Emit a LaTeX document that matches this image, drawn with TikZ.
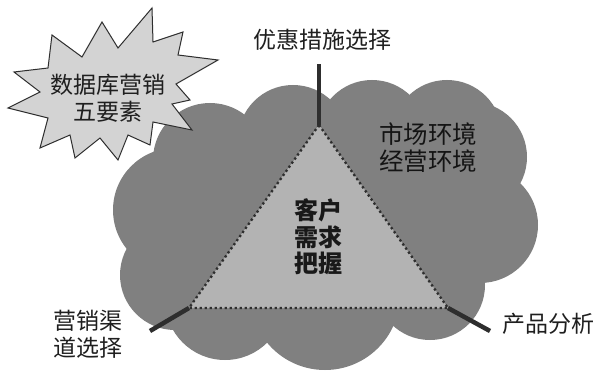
\documentclass[tikz,border=0pt]{standalone}
\usepackage{fontspec}
\newfontfamily\cjk{Noto Sans CJK SC}
\definecolor{cloudgray}{HTML}{808080}
\definecolor{trigray}{HTML}{B3B3B3}
\definecolor{stargray}{HTML}{D3D3D3}
\definecolor{darkline}{HTML}{2E2E2E}
\begin{document}
\begin{tikzpicture}[x=1pt,y=-1pt,
  cloudpart/.style={fill=cloudgray, draw=none},
  starsty/.style={fill=stargray, draw=darkline, line width=1pt, line join=miter},
  tristy/.style={fill=trigray, draw=none},
  dotsty/.style={draw=darkline, line width=2.3pt, dash pattern=on 2.3pt off 2.7pt},
  spoke/.style={draw=darkline, line width=4.5pt},
  lbl/.style={font=\cjk\fontsize{23}{27}\selectfont, align=center, inner sep=0pt, text=black!88},
  envlbl/.style={font=\cjk\fontsize{24.5}{27}\selectfont, align=center, inner sep=0pt, text=black!92},
  blbl/.style={font=\cjk\bfseries\fontsize{24}{26.5}\selectfont, align=center, inner sep=0pt, text=black!90}]
\useasboundingbox (0,0) rectangle (600,374);
\fill[white] (0,0) rectangle (600,374);
% cloud
\fill[cloudpart] (210,160) circle[radius=57];
\fill[cloudpart] (293,140) circle[radius=55];
\fill[cloudpart] (372,135) circle[radius=55];
\fill[cloudpart] (447,135) circle[radius=55];
\fill[cloudpart] (472,157) circle[radius=55];
\fill[cloudpart] (480,225) circle[radius=58];
\fill[cloudpart] (430,285) circle[radius=55];
\fill[cloudpart] (325,295) circle[radius=75];
\fill[cloudpart] (225,300) circle[radius=60];
\fill[cloudpart] (175,275) circle[radius=55];
\fill[cloudpart] (175,210) circle[radius=62];
\fill[cloudpart] (330,215) circle[radius=115];
% star
\draw[starsty] (152,8) -- (153,42) -- (183,32) -- (178,55) -- (218,60) -- (176,84)
  -- (190,100) -- (172,104) -- (192,130) -- (153,122) -- (150,145) -- (128,135)
  -- (118,160) -- (100,138) -- (75,158) -- (70,135) -- (40,148) -- (48,118)
  -- (8,108) -- (40,92) -- (14,72) -- (48,68) -- (52,35) -- (82,57)
  -- (102,22) -- (118,48) -- cycle;
% triangle
\coordinate (T) at (319,125);
\coordinate (L) at (189,308);
\coordinate (R) at (448,308);
\coordinate (Te) at (319,64);
\coordinate (Le) at (150,331);
\coordinate (Re) at (490,331);
\fill[tristy] (T) -- (L) -- (R) -- cycle;
\draw[dotsty] (T) -- (L) -- (R) -- cycle;
\draw[spoke] (T) -- (Te);
\draw[spoke] (L) -- (Le);
\draw[spoke] (R) -- (Re);
% labels
\node[lbl] (top) at (322,40) {优惠措施选择};
\node[lbl] (star) at (108,98.5) {数据库营销\\五要素};
\node[envlbl] (env) at (428,148) {市场环境\\经营环境};
\node[blbl] (core) at (318,237) {客户\\需求\\把握};
\node[lbl] (chan) at (88,334) {营销渠\\道选择};
\node[lbl] (prod) at (548,324) {产品分析};
\end{tikzpicture}
\end{document}
